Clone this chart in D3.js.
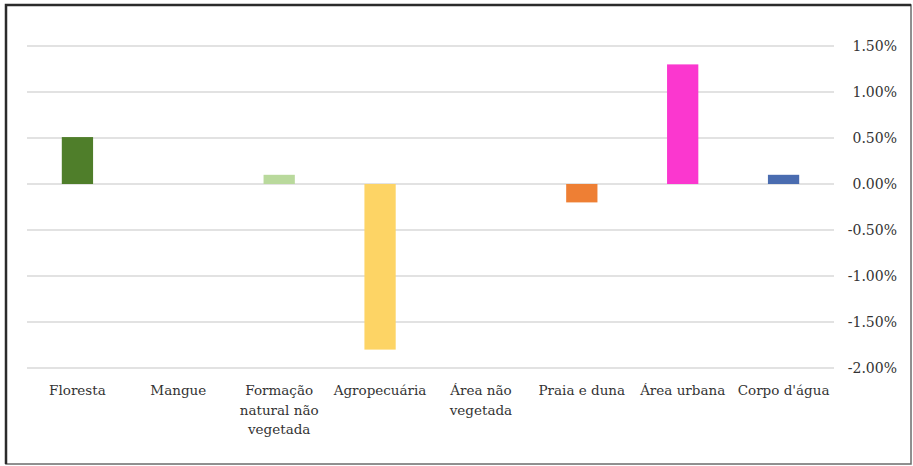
<!DOCTYPE html>
<html>
<head>
<meta charset="utf-8">
<script src="https://cdn.jsdelivr.net/npm/d3@7/dist/d3.min.js"></script>
<style>
  html, body { margin: 0; padding: 0; background: #fff; }
  svg { display: block; }
</style>
</head>
<body>
<svg id="chart" width="913" height="466"></svg>
<script>
// Land-cover change by class (percentage points)
const categories = [
  "Floresta",
  "Mangue",
  "Formação natural não vegetada",
  "Agropecuária",
  "Área não vegetada",
  "Praia e duna",
  "Área urbana",
  "Corpo d'água"
];
const labelLines = [
  ["Floresta"],
  ["Mangue"],
  ["Formação", "natural não", "vegetada"],
  ["Agropecuária"],
  ["Área não", "vegetada"],
  ["Praia e duna"],
  ["Área urbana"],
  ["Corpo d'água"]
];
const values = [0.51, 0.0, 0.10, -1.80, 0.0, -0.20, 1.30, 0.10];
const colors = ["#4f7e2a", "#3d7a3d", "#b9d99c", "#fdd465", "#9e9e9e", "#ee7f34", "#fb37cf", "#4a6cb0"];
const tickValues = [1.5, 1.0, 0.5, 0.0, -0.5, -1.0, -1.5, -2.0];

const FONT = "'DejaVu Serif', serif";
const svg = d3.select("#chart");

// frame
svg.append("rect")
  .attr("x", 6).attr("y", 5).attr("width", 905).attr("height", 459)
  .attr("fill", "#fff").attr("stroke", "#6b6b6b").attr("stroke-width", 1.5);
svg.append("path")
  .attr("d", "M6,464 L6,5 L911,5")
  .attr("fill", "none").attr("stroke", "#2b2b2b").attr("stroke-width", 2.5);

const x = d3.scaleBand().domain(categories).range([27, 834]).paddingInner(0.69).paddingOuter(0.345);
const y = d3.scaleLinear().domain([-2.0, 1.5]).range([368, 46]);

// gridlines
svg.append("g").selectAll("line").data(tickValues).join("line")
  .attr("x1", 27).attr("x2", 834)
  .attr("y1", d => y(d)).attr("y2", d => y(d))
  .attr("stroke", "#d9d9d9").attr("stroke-width", 1.5);

// right axis tick labels
const fmt = d => d.toFixed(2) + "%";
const axis = d3.axisRight(y).tickValues(tickValues).tickFormat(fmt).tickSize(0).tickPadding(0);
const ag = svg.append("g").attr("transform", "translate(897,0)").call(axis)
  .attr("font-family", FONT).attr("font-size", 14);
ag.select(".domain").remove();
ag.selectAll("text")
  .attr("text-anchor", "end")
  .attr("dy", "0.35em")
  .attr("fill", "#333");

// bars
svg.append("g").selectAll("rect").data(values).join("rect")
  .attr("x", (d, i) => x(categories[i]))
  .attr("width", x.bandwidth())
  .attr("y", d => y(Math.max(0, d)))
  .attr("height", d => Math.abs(y(d) - y(0)))
  .attr("fill", (d, i) => colors[i]);

// category labels
const lg = svg.append("g").attr("font-family", FONT).attr("font-size", 13.5).attr("fill", "#333");
labelLines.forEach((lines, i) => {
  const cx = x(categories[i]) + x.bandwidth() / 2;
  const t = lg.append("text").attr("text-anchor", "middle");
  lines.forEach((ln, j) => {
    t.append("tspan").attr("x", cx).attr("y", 395 + j * 19.5).text(ln);
  });
});
</script>
</body>
</html>
